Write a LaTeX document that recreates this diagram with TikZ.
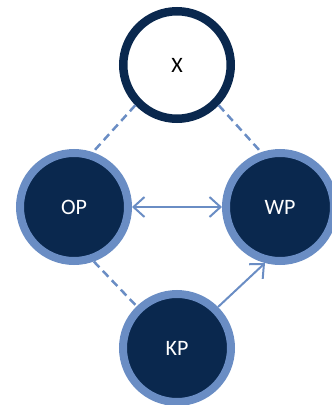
\documentclass[tikz,border=0pt]{standalone}
\usepackage{fontspec}
\setmainfont{Carlito}
\usetikzlibrary{arrows.meta}
\definecolor{navy}{HTML}{0A284E}
\definecolor{ringblue}{HTML}{6A8DC4}
\begin{document}
\begin{tikzpicture}[x=1pt, y=-1pt, font=\fontsize{22}{26}\selectfont,
	topic/.style={circle, draw=navy, line width=8.5pt, fill=white, minimum size=107.5pt, inner sep=0pt, text=black},
	party/.style={circle, draw=ringblue, line width=8pt, fill=navy, minimum size=108pt, inner sep=0pt, text=white},
	link/.style={draw=ringblue, line width=2.5pt, dash pattern=on 8pt off 5pt},
	flow/.style={draw=ringblue, line width=2pt},
	barb/.tip={Straight Barb[length=11pt, width=20pt, line width=2pt]}]
				\useasboundingbox (0,0) rectangle (332,405);
				\node[topic] (X) at (177,65) {X};
				\node[party] (OP) at (74,207) {OP};
				\node[party] (WP) at (280,207) {WP};
				\node[party] (KP) at (177,348) {KP};
				\draw[link] (X.224) -- (OP.71);
				\draw[link] (X.-44) -- (WP.109);
				\draw[link] (OP.-70) -- (KP.134);
				\draw[flow, barb-barb] (OP) -- (WP);
				\draw[flow, -barb] (KP.45) -- (WP.255);
			\end{tikzpicture}
\end{document}
